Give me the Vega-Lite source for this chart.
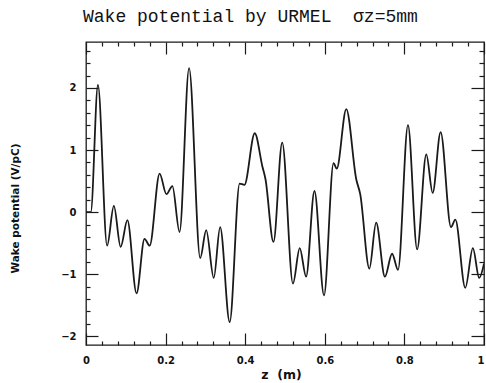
{
  "$schema": "https://vega.github.io/schema/vega-lite/v6.json",
  "width": 398,
  "height": 303,
  "autosize": "none",
  "padding": {"left": 86, "top": 42, "right": 2, "bottom": 38},
  "background": "white",
  "config": {
    "view": {"stroke": "#1a1a1a", "strokeWidth": 1.3},
    "axis": {"domain": false, "grid": false, "tickColor": "#1a1a1a", "tickWidth": 1.2, "labelOverlap": false, "labelFlush": false,
      "labelFont": "DejaVu Sans", "labelFontWeight": "bold", "labelFontSize": 10, "labelColor": "#111",
      "titleFont": "DejaVu Sans", "titleFontWeight": "bold", "titleColor": "#111"}
  },
  "title": {
    "text": "Wake potential by URMEL\u00a0\u00a0σz=5mm",
    "font": "Liberation Mono",
    "fontSize": 18,
    "fontWeight": "normal",
    "color": "#111",
    "anchor": "start",
    "frame": "group",
    "dx": -3,
    "offset": 1,
    "baseline": "alphabetic"
  },
  "data": {
    "values": [
      {"z": 0.000, "w": 0.00},
      {"z": 0.012, "w": 0.00},
      {"z": 0.030, "w": 2.05},
      {"z": 0.053, "w": -0.54},
      {"z": 0.070, "w": 0.10},
      {"z": 0.087, "w": -0.56},
      {"z": 0.104, "w": -0.13},
      {"z": 0.127, "w": -1.31},
      {"z": 0.147, "w": -0.43},
      {"z": 0.160, "w": -0.54},
      {"z": 0.185, "w": 0.62},
      {"z": 0.202, "w": 0.29},
      {"z": 0.217, "w": 0.42},
      {"z": 0.235, "w": -0.32},
      {"z": 0.259, "w": 2.32},
      {"z": 0.287, "w": -0.74},
      {"z": 0.302, "w": -0.29},
      {"z": 0.321, "w": -1.06},
      {"z": 0.337, "w": -0.24},
      {"z": 0.361, "w": -1.77},
      {"z": 0.386, "w": 0.46},
      {"z": 0.398, "w": 0.44},
      {"z": 0.424, "w": 1.27},
      {"z": 0.443, "w": 0.74},
      {"z": 0.451, "w": 0.53},
      {"z": 0.471, "w": -0.48},
      {"z": 0.493, "w": 1.12},
      {"z": 0.520, "w": -1.15},
      {"z": 0.537, "w": -0.58},
      {"z": 0.553, "w": -1.04},
      {"z": 0.574, "w": 0.34},
      {"z": 0.598, "w": -1.34},
      {"z": 0.622, "w": 0.79},
      {"z": 0.630, "w": 0.70},
      {"z": 0.654, "w": 1.66},
      {"z": 0.679, "w": 0.53},
      {"z": 0.689, "w": 0.29},
      {"z": 0.712, "w": -0.91},
      {"z": 0.729, "w": -0.17},
      {"z": 0.751, "w": -1.04},
      {"z": 0.769, "w": -0.67},
      {"z": 0.784, "w": -0.93},
      {"z": 0.809, "w": 1.40},
      {"z": 0.832, "w": -0.60},
      {"z": 0.855, "w": 0.93},
      {"z": 0.871, "w": 0.31},
      {"z": 0.891, "w": 1.29},
      {"z": 0.917, "w": -0.24},
      {"z": 0.928, "w": -0.12},
      {"z": 0.953, "w": -1.22},
      {"z": 0.972, "w": -0.58},
      {"z": 0.988, "w": -1.06},
      {"z": 1.000, "w": -0.83}
    ]
  },
  "layer": [
    {
      "mark": {"type": "line", "interpolate": "monotone", "stroke": "#1a1a1a", "strokeWidth": 1.8, "clip": true},
      "encoding": {
        "x": {
          "field": "z", "type": "quantitative",
          "scale": {"domain": [0, 1], "nice": false, "zero": false},
          "axis": {
            "orient": "bottom",
            "values": [0, 0.04, 0.08, 0.12, 0.16, 0.2, 0.24, 0.28, 0.32, 0.36, 0.4, 0.44, 0.48, 0.52, 0.56, 0.6, 0.64, 0.68, 0.72, 0.76, 0.8, 0.84, 0.88, 0.92, 0.96, 1],
            "tickSize": {"condition": {"test": "abs(datum.value*5 - round(datum.value*5)) < 0.001", "value": -12}, "value": -4},
            "labelExpr": "abs(datum.value*5 - round(datum.value*5)) < 0.001 ? format(datum.value, '~g') : ''",
            "labelAlign": {"condition": {"test": "datum.value > 0.99", "value": "right"}, "value": "center"},
            "labelPadding": 22,
            "title": "z\u00a0\u00a0(m)",
            "titleFontSize": 12.5,
            "titleX": 195,
            "titleY": 29,
            "titleBaseline": "middle",
            "titleAlign": "center"
          }
        },
        "y": {
          "field": "w", "type": "quantitative",
          "scale": {"domain": [-2.14, 2.74], "nice": false, "zero": false},
          "axis": {
            "orient": "left",
            "values": [-2, -1.8, -1.6, -1.4, -1.2, -1, -0.8, -0.6, -0.4, -0.2, 0, 0.2, 0.4, 0.6, 0.8, 1, 1.2, 1.4, 1.6, 1.8, 2, 2.2, 2.4, 2.6],
            "tickSize": {"condition": {"test": "abs(datum.value - round(datum.value)) < 0.001", "value": -12}, "value": -4},
            "labelExpr": "abs(datum.value - round(datum.value)) < 0.001 ? format(datum.value, '~g') : ''",
            "labelPadding": 22,
            "title": "Wake potential (V/pC)",
            "titleFontSize": 10.5,
            "titleAngle": -90,
            "titleX": -71,
            "titleY": 166,
            "titleBaseline": "middle",
            "titleAlign": "center"
          }
        }
      }
    },
    {
      "mark": {"type": "line", "opacity": 0},
      "encoding": {
        "x": {
          "field": "z", "type": "quantitative",
          "scale": {"domain": [0, 1], "nice": false, "zero": false},
          "axis": {
            "orient": "top",
            "values": [0, 0.04, 0.08, 0.12, 0.16, 0.2, 0.24, 0.28, 0.32, 0.36, 0.4, 0.44, 0.48, 0.52, 0.56, 0.6, 0.64, 0.68, 0.72, 0.76, 0.8, 0.84, 0.88, 0.92, 0.96, 1],
            "tickSize": {"condition": {"test": "abs(datum.value*5 - round(datum.value*5)) < 0.001", "value": -12}, "value": -4},
            "labels": false,
            "title": null
          }
        },
        "y": {
          "field": "w", "type": "quantitative",
          "scale": {"domain": [-2.14, 2.74], "nice": false, "zero": false},
          "axis": {
            "orient": "right",
            "values": [-2, -1.8, -1.6, -1.4, -1.2, -1, -0.8, -0.6, -0.4, -0.2, 0, 0.2, 0.4, 0.6, 0.8, 1, 1.2, 1.4, 1.6, 1.8, 2, 2.2, 2.4, 2.6],
            "tickSize": {"condition": {"test": "abs(datum.value - round(datum.value)) < 0.001", "value": -13}, "value": -5},
            "labels": false,
            "title": null
          }
        }
      }
    }
  ],
  "resolve": {"scale": {"x": "independent", "y": "independent"}, "axis": {"x": "independent", "y": "independent"}}
}
